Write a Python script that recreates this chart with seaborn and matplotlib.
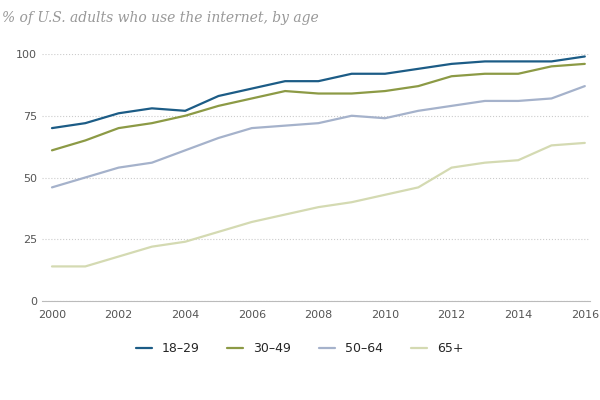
import matplotlib
matplotlib.use("Agg")
import matplotlib.pyplot as plt
import seaborn as sns
import pandas as pd

years = list(range(2000, 2017))
age_18_29 = [70, 72, 76, 78, 77, 83, 86, 89, 89, 92, 92, 94, 96, 97, 97, 97, 99]
age_30_49 = [61, 65, 70, 72, 75, 79, 82, 85, 84, 84, 85, 87, 91, 92, 92, 95, 96]
age_50_64 = [46, 50, 54, 56, 61, 66, 70, 71, 72, 75, 74, 77, 79, 81, 81, 82, 87]
age_65p = [14, 14, 18, 22, 24, 28, 32, 35, 38, 40, 43, 46, 54, 56, 57, 63, 64]
labels = ["18\u201329", "30\u201349", "50\u201364", "65+"]
colors = ["#1c5c86", "#8c9a45", "#a5b2cb", "#d4dab2"]

rows = []
for lab, vals in zip(labels, [age_18_29, age_30_49, age_50_64, age_65p]):
    for y, v in zip(years, vals):
        rows.append({"year": y, "pct": v, "age": lab})
df = pd.DataFrame(rows)

sns.set_style("white")
fig = plt.figure(figsize=(6, 4), dpi=100)
ax = fig.add_axes([0.07, 0.2475, 0.913, 0.6175])
sns.lineplot(data=df, x="year", y="pct", hue="age", palette=colors,
             linewidth=1.6, ax=ax)
for l in ax.lines:
    l.set_clip_on(False)
ax.set_xlim(1999.7, 2016.15)
ax.set_ylim(0, 100)
ax.set_yticks([0, 25, 50, 75, 100])
ax.set_xticks(list(range(2000, 2017, 2)))
ax.tick_params(axis="both", labelsize=8, colors="#555555", length=0)
ax.tick_params(axis="x", length=3, color="#bbbbbb")
ax.yaxis.grid(True, linestyle=":", color="#cccccc", linewidth=0.8)
for s in ["top", "right", "left"]:
    ax.spines[s].set_visible(False)
ax.spines["bottom"].set_color("#bbbbbb")
ax.set_xlabel("")
ax.set_ylabel("")
h, l = ax.get_legend_handles_labels()
ax.legend(h, l, loc="upper center", bbox_to_anchor=(0.47, -0.12), ncol=4,
          frameon=False, fontsize=9, handlelength=1.3, columnspacing=2.2)
fig.text(0.003, 0.955, "% of U.S. adults who use the internet, by age",
         fontsize=10, style="italic", family="serif", color="#999999",
         va="center")
fig.savefig("out.png", dpi=100)
